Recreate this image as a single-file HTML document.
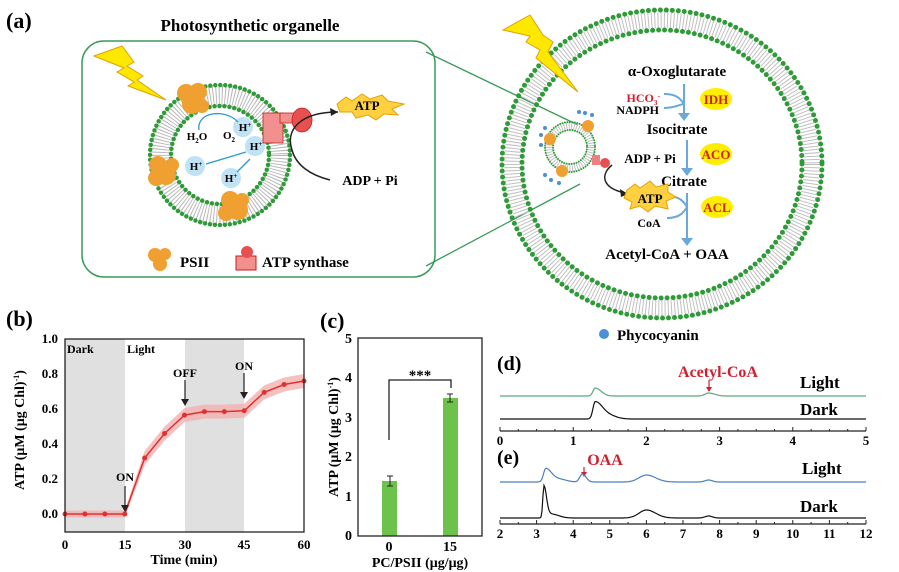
<!DOCTYPE html>
<html><head><meta charset="utf-8"><style>
html,body{margin:0;padding:0;background:#fff}
svg{display:block;font-family:"Liberation Serif",serif;font-weight:bold}
</style></head><body>
<svg id="s" width="899" height="572" viewBox="0 0 899 572" xmlns="http://www.w3.org/2000/svg">
<!-- (a) -->
<text x="6" y="28" font-size="22">(a)</text>
<text x="250" y="31" font-size="17" text-anchor="middle">Photosynthetic organelle</text>
<rect x="82" y="41" width="353" height="236" rx="22" fill="none" stroke="#3a9a5a" stroke-width="1.5"/>
<line x1="426" y1="52" x2="578" y2="125" stroke="#3a9a5a" stroke-width="1.3"/>
<line x1="426" y1="266" x2="580" y2="184" stroke="#3a9a5a" stroke-width="1.3"/>

<!-- left organelle -->
<circle cx="220" cy="155" r="59.5" fill="none" stroke="#b8b8b8" stroke-width="20" stroke-dasharray="1 2"/>
<circle cx="220" cy="155" r="70" fill="none" stroke="#2f9a38" stroke-width="4.5" stroke-dasharray="0 5" stroke-linecap="round"/>
<circle cx="220" cy="155" r="49" fill="#fff" stroke="#2f9a38" stroke-width="4.5" stroke-dasharray="0 5" stroke-linecap="round"/>
<polygon points="94,56 122,46 134,62 127,66 143,76 137,80 166,100 128,86 134,82 117,72 124,68" fill="#ffe800" stroke="#e0a000" stroke-width="1"/>
<g fill="#f0a030">
<circle cx="186" cy="93" r="9"/><circle cx="198" cy="92" r="9"/><circle cx="192" cy="104" r="10"/><circle cx="202" cy="106" r="7"/>
<circle cx="158" cy="165" r="9"/><circle cx="166" cy="175" r="10"/><circle cx="156" cy="178" r="8"/><circle cx="172" cy="165" r="7"/>
<circle cx="230" cy="200" r="9"/><circle cx="238" cy="210" r="10"/><circle cx="226" cy="213" r="8"/><circle cx="242" cy="200" r="7"/>
</g>
<g fill="#bfe2f4"><circle cx="243" cy="127" r="10"/><circle cx="255" cy="146" r="10"/><circle cx="195" cy="166" r="10"/><circle cx="231" cy="178" r="10"/></g>
<g font-size="11" text-anchor="middle">
<text x="197" y="140">H<tspan font-size="7" dy="3">2</tspan><tspan dy="-3">O</tspan></text>
<text x="229" y="139">O<tspan font-size="7" dy="3">2</tspan></text>
<text x="245" y="131">H<tspan font-size="7" dy="-4">+</tspan></text>
<text x="256" y="150">H<tspan font-size="7" dy="-4">+</tspan></text>
<text x="196" y="170">H<tspan font-size="7" dy="-4">+</tspan></text>
<text x="231" y="182">H<tspan font-size="7" dy="-4">+</tspan></text>
</g>
<g stroke="#2a9ad0" stroke-width="1.3" fill="none">
<path d="M199 130 C196 112 225 108 238 122"/><line x1="206" y1="164" x2="246" y2="152"/><line x1="237" y1="172" x2="250" y2="159"/>
</g>
<g fill="#e84a4a" stroke="#c02020" stroke-width="0.8">
<rect x="263" y="113" width="20" height="30" fill="#f29090"/><rect x="280" y="113" width="14" height="10" fill="#f29090"/>
<ellipse cx="302" cy="120" rx="10" ry="12" fill="#e85050"/>
</g>
<path d="M338 112 C 300 112 285 130 292 150 C 296 165 310 175 330 180" fill="none" stroke="#222" stroke-width="1.5"/>
<polygon points="338,112 330,108 331,116" fill="#222"/>
<polygon points="337,104 346,97 352,101 362,94 370,99 382,95 388,101 404,104 392,109 398,115 384,114 376,120 368,115 356,118 352,112 340,112" fill="#ffd040" stroke="#e8a000"/>
<text x="367" y="110" font-size="13" text-anchor="middle">ATP</text>
<text x="370" y="185" font-size="14" text-anchor="middle">ADP + Pi</text>
<g fill="#f0a030"><circle cx="155" cy="255" r="7"/><circle cx="165" cy="254" r="6"/><circle cx="160" cy="264" r="7"/></g>
<text x="180" y="267" font-size="15">PSII</text>
<rect x="236" y="256" width="20" height="14" fill="#f29090" stroke="#c02020"/><circle cx="247" cy="252" r="6" fill="#e85050"/>
<text x="262" y="267" font-size="15">ATP synthase</text>

<!-- big circle -->
<ellipse cx="662" cy="164" rx="150" ry="144" fill="none" stroke="#c0c0c0" stroke-width="16" stroke-dasharray="1 2.2"/>
<ellipse cx="662" cy="164" rx="160" ry="154" fill="none" stroke="#2f9a38" stroke-width="5" stroke-dasharray="0 6" stroke-linecap="round"/>
<ellipse cx="662" cy="164" rx="140" ry="134" fill="none" stroke="#2f9a38" stroke-width="5" stroke-dasharray="0 6" stroke-linecap="round"/>
<polygon points="503,30 530,15 543,35 553,42 548,52 578,92 536,58 540,50 526,42 530,36" fill="#ffe800" stroke="#e0a000"/>
<!-- mini organelle -->
<circle cx="570" cy="147" r="21" fill="none" stroke="#c0c0c0" stroke-width="7" stroke-dasharray="1 1.5"/>
<circle cx="570" cy="147" r="25" fill="none" stroke="#2f9a38" stroke-width="2" stroke-dasharray="0 2.5" stroke-linecap="round"/>
<circle cx="570" cy="147" r="17" fill="#fff" stroke="#2f9a38" stroke-width="2" stroke-dasharray="0 2.5" stroke-linecap="round"/>
<g fill="#f0a030"><circle cx="588" cy="126" r="6"/><circle cx="550" cy="139" r="6"/><circle cx="562" cy="171" r="6"/></g>
<g fill="#4a8fd0"><circle cx="585" cy="113" r="2"/><circle cx="592" cy="115" r="2"/><circle cx="579" cy="112" r="2"/><circle cx="541" cy="135" r="2"/><circle cx="541" cy="145" r="2"/><circle cx="545" cy="128" r="2"/><circle cx="551" cy="180" r="2"/><circle cx="559" cy="183" r="2"/><circle cx="545" cy="175" r="2"/></g>
<rect x="592" y="155" width="8" height="10" fill="#f08080"/><circle cx="605" cy="163" r="5" fill="#e85050"/>
<path d="M612 165 C 600 175 602 188 625 193" fill="none" stroke="#222" stroke-width="1.5"/>
<polygon points="628,194 620,189 621,197" fill="#222"/>
<g font-size="15" text-anchor="middle">
<text x="677" y="76">α-Oxoglutarate</text>
<text x="677" y="134">Isocitrate</text>
<text x="684" y="186">Citrate</text>
<text x="667" y="259">Acetyl-CoA + OAA</text>
</g>
<text x="660" y="102" font-size="12" text-anchor="end" fill="#d02030">HCO<tspan font-size="7" dy="3">3</tspan><tspan font-size="8" dy="-6">-</tspan></text>
<text x="659" y="114" font-size="12" text-anchor="end">NADPH</text>
<text x="650" y="163" font-size="13" text-anchor="middle">ADP + Pi</text>
<text x="649" y="227" font-size="12" text-anchor="middle">CoA</text>
<g stroke="#6aa8dc" stroke-width="2" fill="none">
<line x1="684" y1="84" x2="684" y2="115"/><path d="M664 94 C676 94 680 98 684 104 M664 108 C676 108 680 104 684 104"/>
<line x1="687" y1="140" x2="687" y2="170"/>
<line x1="687" y1="193" x2="687" y2="240"/><path d="M667 196 C680 196 684 202 687 207 M667 218 C680 218 684 212 687 207"/>
</g>
<g fill="#6aa8dc"><polygon points="678,113 690,113 684,121"/><polygon points="681,168 693,168 687,176"/><polygon points="681,238 693,238 687,246"/></g>
<polygon points="627,190 635,184 640,188 650,181 656,187 668,184 668,192 676,197 666,201 668,209 655,206 648,212 640,206 630,209 632,202 624,198" fill="#ffd040" stroke="#e8a000"/>
<text x="650" y="203" font-size="13" text-anchor="middle">ATP</text>
<g fill="#ffee00"><ellipse cx="716" cy="99" rx="16" ry="11"/><ellipse cx="716" cy="154" rx="16" ry="11"/><ellipse cx="717" cy="207" rx="16" ry="11"/></g>
<g font-size="13" fill="#d02020" text-anchor="middle"><text x="716" y="104">IDH</text><text x="716" y="159">ACO</text><text x="717" y="212">ACL</text></g>
<circle cx="604" cy="334" r="5" fill="#4a90d8"/>
<text x="617" y="340" font-size="15">Phycocyanin</text>

<!-- (b) -->
<text x="6" y="326" font-size="22">(b)</text>
<rect x="65" y="339" width="60" height="193" fill="#e0e0e0"/>
<rect x="185" y="339" width="59" height="193" fill="#e0e0e0"/>
<path id="band" fill="#f4b0b0" opacity="0.8"/>
<polyline id="line" fill="none" stroke="#e03030" stroke-width="1.5"/>
<g id="pts" fill="#e03030"></g>
<rect x="65" y="339" width="239" height="193" fill="none" stroke="#222" stroke-width="1.3"/>
<g font-size="12"><text x="67" y="353">Dark</text><text x="127" y="353">Light</text>
<text x="125" y="481" text-anchor="middle">ON</text><text x="185" y="377" text-anchor="middle">OFF</text><text x="244" y="370" text-anchor="middle">ON</text></g>
<g stroke="#222" stroke-width="1.2"><line x1="125" y1="486" x2="125" y2="510"/><line x1="185" y1="380" x2="185" y2="404"/><line x1="244" y1="373" x2="244" y2="397"/></g>
<g fill="#222"><polygon points="121,505 129,505 125,512"/><polygon points="181,399 189,399 185,406"/><polygon points="240,392 248,392 244,399"/></g>
<g font-size="13" text-anchor="end"><text x="58" y="343">1.0</text><text x="58" y="378">0.8</text><text x="58" y="413">0.6</text><text x="58" y="448">0.4</text><text x="58" y="483">0.2</text><text x="58" y="518">0.0</text></g>
<g font-size="13" text-anchor="middle"><text x="65" y="549">0</text><text x="125" y="549">15</text><text x="185" y="549">30</text><text x="244" y="549">45</text><text x="304" y="549">60</text>
<text x="184" y="564" font-size="14">Time (min)</text></g>
<text transform="translate(24,430) rotate(-90)" font-size="14" text-anchor="middle">ATP (μM (μg Chl)<tspan font-size="8" dy="-5">-1</tspan><tspan dy="5">)</tspan></text>

<!-- (c) -->
<text x="320" y="328" font-size="22">(c)</text>
<rect x="382" y="481" width="15" height="55" fill="#6cc24a"/>
<rect x="443" y="398" width="15" height="138" fill="#6cc24a"/>
<g stroke="#222" stroke-width="1"><line x1="390" y1="476" x2="390" y2="486"/><line x1="387" y1="476" x2="393" y2="476"/><line x1="387" y1="486" x2="393" y2="486"/>
<line x1="450" y1="394" x2="450" y2="402"/><line x1="447" y1="394" x2="453" y2="394"/><line x1="447" y1="402" x2="453" y2="402"/></g>
<polyline points="389,440 389,380 451,380 451,388" fill="none" stroke="#222" stroke-width="1.3"/>
<text x="420" y="380" font-size="15" text-anchor="middle">***</text>
<rect x="358" y="338" width="124" height="198" fill="none" stroke="#222" stroke-width="1.3"/>
<g font-size="14" text-anchor="end"><text x="352" y="343">5</text><text x="352" y="382">4</text><text x="352" y="422">3</text><text x="352" y="461">2</text><text x="352" y="501">1</text><text x="352" y="540">0</text></g>
<g font-size="14" text-anchor="middle"><text x="389" y="551">0</text><text x="450" y="551">15</text><text x="420" y="567">PC/PSII (μg/μg)</text></g>
<text transform="translate(338,437) rotate(-90)" font-size="14" text-anchor="middle">ATP (μM (μg Chl)<tspan font-size="8" dy="-5">-1</tspan><tspan dy="5">)</tspan></text>

<!-- (d) -->
<text x="497" y="370" font-size="20">(d)</text>
<text x="718" y="377" font-size="16" fill="#d02030" text-anchor="middle">Acetyl-CoA</text>
<line x1="709" y1="380" x2="709" y2="389" stroke="#d02030" stroke-width="1.2"/><polygon points="706,387 712,387 709,392" fill="#d02030"/>
<text x="800" y="388" font-size="17">Light</text><text x="800" y="415" font-size="17">Dark</text>
<path id="dL" fill="none" stroke="#5aa880" stroke-width="1.2"/>
<path id="dD" fill="none" stroke="#111" stroke-width="1.2"/>
<line x1="500" y1="431" x2="866" y2="431" stroke="#222" stroke-width="1.2"/>
<g id="dt"></g>
<!-- (e) -->
<text x="497" y="464" font-size="20">(e)</text>
<text x="605" y="465" font-size="16" fill="#d02030" text-anchor="middle">OAA</text>
<line x1="584" y1="467" x2="584" y2="474" stroke="#d02030" stroke-width="1.2"/><polygon points="581,472 587,472 584,477" fill="#d02030"/>
<text x="802" y="474" font-size="17">Light</text><text x="800" y="512" font-size="17">Dark</text>
<path id="eL" fill="none" stroke="#4a7fc0" stroke-width="1.2"/>
<path id="eD" fill="none" stroke="#111" stroke-width="1.2"/>
<line x1="500" y1="524" x2="866" y2="524" stroke="#222" stroke-width="1.2"/>
<g id="et"></g>
</svg>
<script>
var NS="http://www.w3.org/2000/svg";
function X(t){return 65+t*239/60}function Y(v){return 514-v*175}
var T=[0,5,10,15,20,25,30,35,40,45,50,55,60],V=[0,0,0,0,0.32,0.46,0.565,0.585,0.585,0.59,0.695,0.74,0.76];
var up=[],dn=[],ln=[],g=document.getElementById('pts');
for(var i=0;i<T.length;i++){var w=i<4?0.02:0.04;up.push(X(T[i])+','+Y(V[i]+w));dn.unshift(X(T[i])+','+Y(V[i]-w));ln.push(X(T[i])+','+Y(V[i]));
var c=document.createElementNS(NS,'circle');c.setAttribute('cx',X(T[i]));c.setAttribute('cy',Y(V[i]));c.setAttribute('r',2.5);g.appendChild(c);}
document.getElementById('band').setAttribute('d','M'+up.join(' L')+' L'+dn.join(' L')+'Z');
document.getElementById('line').setAttribute('points',ln.join(' '));
function chrom(id,x0,x1,a,b,base,peaks){var d='';for(var px=x0;px<=x1;px++){var t=a+(px-x0)*(b-a)/(x1-x0),y=0;
peaks.forEach(function(p){var s=t<p[0]?p[2]:p[3];y+=p[1]*Math.exp(-Math.pow((t-p[0])/s,2)/2);});
d+=(d?'L':'M')+px+' '+(base-y).toFixed(1);}document.getElementById(id).setAttribute('d',d);}
chrom('dL',500,866,0,5,396,[[1.3,8,0.03,0.08],[2.85,3,0.05,0.08]]);
chrom('dD',500,866,0,5,419,[[1.3,17,0.03,0.1],[1.5,3,0.1,0.1]]);
chrom('eL',500,866,2,12,482,[[3.25,13,0.06,0.15],[3.6,3,0.2,0.2],[4.25,8,0.07,0.1],[6,7,0.2,0.25],[7.7,2,0.1,0.1]]);
chrom('eD',500,866,2,12,518,[[3.2,32,0.03,0.07],[3.4,4,0.1,0.2],[6,8,0.2,0.25],[7.7,2,0.1,0.1]]);
function ticks(id,y,a,b,step,minor){var gg=document.getElementById(id);for(var v=a;v<=b+1e-9;v+=minor){var x=500+(v-a)*366/(b-a);
var l=document.createElementNS(NS,'line');var major=Math.abs(v/step-Math.round(v/step))<1e-6;l.setAttribute('x1',x);l.setAttribute('x2',x);l.setAttribute('y1',y-(major?4:2));l.setAttribute('y2',y);l.setAttribute('stroke','#222');gg.appendChild(l);
if(major){var t=document.createElementNS(NS,'text');t.setAttribute('x',x);t.setAttribute('y',y+14);t.setAttribute('font-size','13');t.setAttribute('text-anchor','middle');t.textContent=Math.round(v);gg.appendChild(t);}}}
ticks('dt',431,0,5,1,0.25);ticks('et',524,2,12,1,0.5);
</script>
</body></html>
